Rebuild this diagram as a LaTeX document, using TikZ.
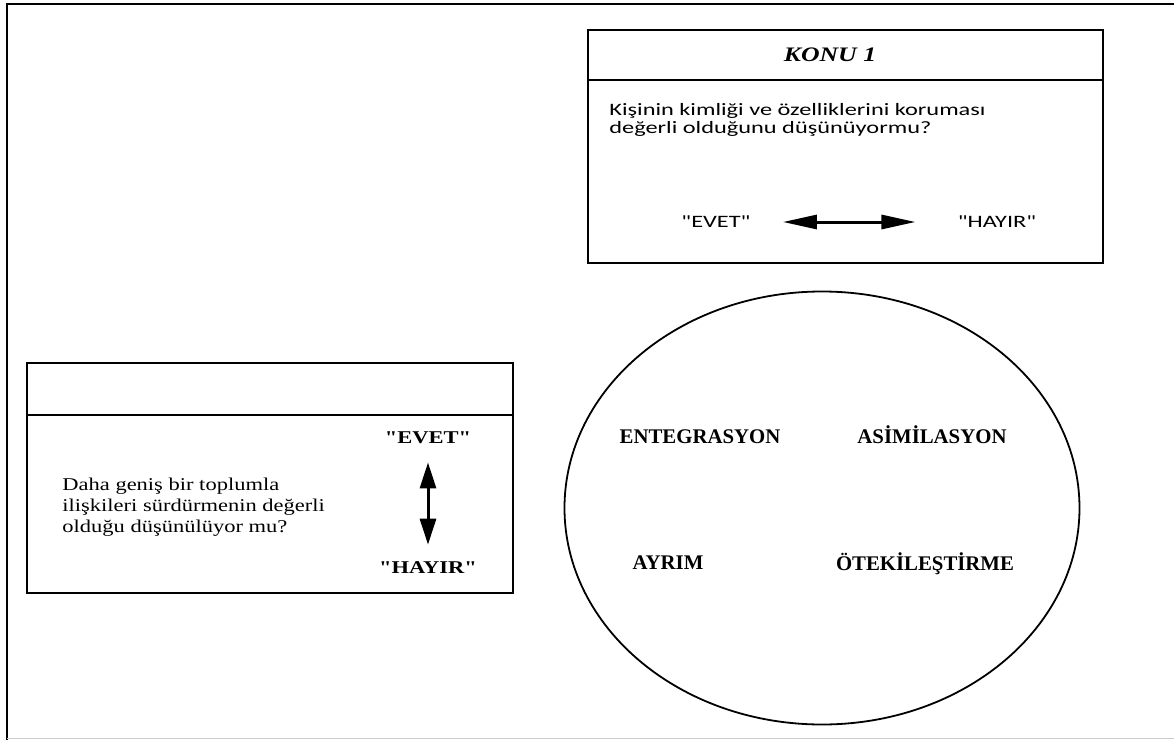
\documentclass[tikz,border=0pt]{standalone}
\usepackage{fontspec}
\setmainfont{Liberation Serif}
\newfontfamily\calibri[FakeStretch=1.4]{Carlito}
\newfontfamily\wideserif[FakeStretch=1.25]{Liberation Serif}
\usepackage{tikz}
\usetikzlibrary{arrows.meta,positioning,calc,shapes.geometric}

\begin{document}
\begin{tikzpicture}[x=0.5pt,y=-0.5pt,
  box/.style={draw,line width=1pt},
  sanslbl/.style={inner sep=0pt,font=\calibri\fontsize{8.7}{9}\selectfont},
  seriflbl/.style={inner sep=0pt,font=\wideserif\fontsize{9}{10.5}\selectfont},
  yesno/.style={inner sep=0pt,font=\wideserif\bfseries\fontsize{9}{10}\selectfont},
  strategy/.style={inner sep=0pt,font=\bfseries\fontsize{10.4}{12}\selectfont}]
\useasboundingbox (0,0) rectangle (1174,740);
% outer frame
\draw[line width=1.3pt] (7,740) -- (7,4) -- (1174,4);
\draw[black!20] (7,738.5) -- (1174,738.5);
% KONU 1 box
\draw[box] (588,30) rectangle (1103,263);
\draw[box] (588,80) -- (1103,80);
\node (konu) at (830,55) [inner sep=0pt,font=\wideserif\bfseries\itshape\fontsize{10.3}{12}\selectfont] {KONU 1};
\node (q1) at (609,120) [sanslbl,anchor=west,align=left] {Kişinin kimliği ve özelliklerini koruması\\değerli olduğunu düşünüyormu?};
\node (evet1) at (716,222) [sanslbl] {"EVET"};
\node (hayir1) at (997,222) [sanslbl] {"HAYIR"};
\draw[line width=1.5pt,{Triangle[length=17pt,width=7pt]}-{Triangle[length=17pt,width=7pt]},shorten <=16pt,shorten >=21pt] (evet1) -- (hayir1);
% second box
\draw[box] (27,363) rectangle (513,593);
\draw[box] (27,415) -- (513,415);
\node (q2) at (62,507) [seriflbl,anchor=west,align=left] {Daha geniş bir toplumla\\ilişkileri sürdürmenin değerli\\olduğu düşünülüyor mu?};
\node (evet2) at (428,438) [yesno] {"EVET"};
\node (hayir2) at (428,568) [yesno] {"HAYIR"};
\draw[line width=1.5pt,{Triangle[length=13pt,width=8pt]}-{Triangle[length=13pt,width=8pt]},shorten <=9pt,shorten >=8.5pt] (evet2) -- (hayir2);
% strategies
\node (circ) at (822,508) [ellipse,draw,line width=0.9pt,minimum width=257.5pt,minimum height=216.5pt] {};
\node (ent) at (700,437) [strategy] {ENTEGRASYON};
\node (asi) at (932,435) [strategy] {ASİMİLASYON};
\node (ayr) at (668,563) [strategy] {AYRIM};
\node (ote) at (925,564) [strategy] {ÖTEKİLEŞTİRME};
\end{tikzpicture}
\end{document}
